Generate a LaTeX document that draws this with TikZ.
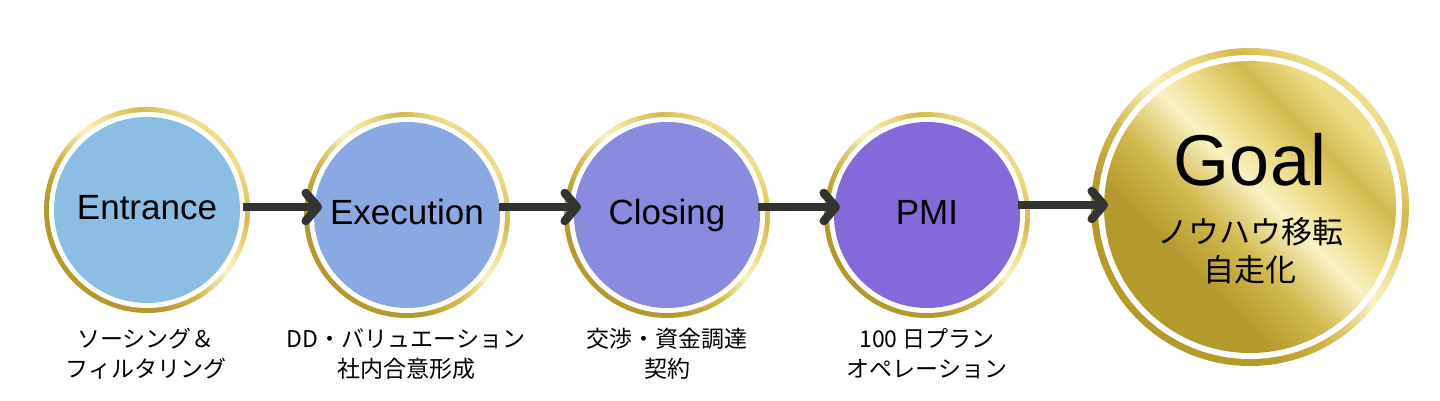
\documentclass[tikz,border=0pt]{standalone}
\usepackage{fontspec}
\setmainfont{Noto Sans CJK JP}
\newfontfamily\latinsans{Liberation Sans}
\usetikzlibrary{arrows.meta}
\definecolor{stageA}{HTML}{8CBEE4}
\definecolor{stageB}{HTML}{8AA9E3}
\definecolor{stageC}{HTML}{8A8ADF}
\definecolor{stageD}{HTML}{8469DA}
\definecolor{golddark}{HTML}{B49A2C}
\definecolor{goldmid}{HTML}{D2B94E}
\definecolor{goldlight}{HTML}{F8F2C4}
\definecolor{goldyellow}{HTML}{EEDD88}
\colorlet{arrowink}{black!80}
\pgfdeclarehorizontalshading{goldmetal}{100bp}{color(0bp)=(golddark); color(35bp)=(golddark); color(44bp)=(goldmid); color(53bp)=(goldlight); color(59bp)=(goldyellow); color(66bp)=(goldmid); color(73bp)=(goldyellow); color(100bp)=(goldyellow)}

\begin{document}
\begin{tikzpicture}[x=1pt, y=1pt]
  \tikzset{stage/.style={circle, minimum size=206pt, inner sep=0pt, outer sep=0pt, shade, shading=goldmetal, shading angle=45,
      text height=25pt, text depth=7pt, font=\latinsans\fontsize{35}{35}\selectfont,
      path picture={\fill[white] (path picture bounding box.center) circle (98pt);
        \fill[#1] (path picture bounding box.center) circle (93pt);}},
    stepnote/.style={align=center, font=\fontsize{23}{30}\selectfont},
    flow/.style={draw=arrowink, line width=8.5pt, -{Straight Barb[length=12pt, width=28pt, round]}}}
\useasboundingbox (0,0) rectangle (1440,400);
\node[stage=stageA] (e1) at (147,190) {Entrance};
\node[stage=stageB] (e2) at (407,185) {Execution};
\node[stage=stageC] (e3) at (667,185) {Closing};
\node[stage=stageD] (e4) at (927,185) {PMI};
\node[circle, minimum size=318pt, inner sep=0pt, outer sep=0pt, shade, shading=goldmetal, shading angle=45,
  path picture={\fill[white] (path picture bounding box.center) circle (152pt);
    \shade[shading=goldmetal, shading angle=45] (path picture bounding box.center) circle (146pt);}] (goal) at (1250,193) {};
\node[font=\latinsans\fontsize{72}{72}\selectfont] (goaltitle) at ([yshift=47pt]goal.center) {Goal};
\node[align=center, font=\fontsize{31}{38}\selectfont] (goalnote) at ([yshift=-44pt]goal.center) {ノウハウ移転\\自走化};
% arrows between the stages
\draw[flow] ([shift={(-7,3)}]e1.east) -- ([shift={(18,8)}]e2.west);
\draw[flow] ([shift={(-11,8)}]e2.east) -- ([shift={(17,8)}]e3.west);
\draw[flow] ([shift={(-12,8)}]e3.east) -- ([shift={(16,8)}]e4.west);
\draw[flow] ([shift={(-12,10)}]e4.east) -- ([shift={(17,2)}]goal.west);
% captions under the stages
\node[stepnote] (n1) at (146,46) {ソーシング＆\\フィルタリング};
\node[stepnote] (n2) at (406,46) {DD・バリュエーション\\社内合意形成};
\node[stepnote] (n3) at (667,46) {交渉・資金調達\\契約};
\node[stepnote] (n4) at (927,46) {100 日プラン\\オペレーション};
\end{tikzpicture}
\end{document}
